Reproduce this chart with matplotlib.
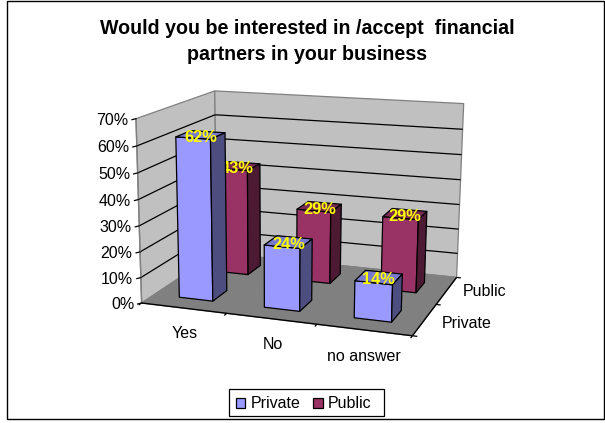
import numpy as np
import matplotlib
matplotlib.use("Agg")
import matplotlib.pyplot as plt
from matplotlib.patches import Polygon, Rectangle

categories = ["Yes", "No", "no answer"]
series_names = ["Private", "Public"]
private_values = [62, 24, 14]
public_values = [43, 29, 29]
z_ticks = [0, 10, 20, 30, 40, 50, 60, 70]

PRIVATE = ("#9999FF", "#7A7ACC", "#4D4D80")
PUBLIC = ("#993366", "#7A2952", "#4D1A33")
WALL = "#C0C0C0"
FLOOR = "#808080"
EDGE = "#000000"

plt.rcParams["font.family"] = ["Liberation Sans", "DejaVu Sans"]
W, H = 605, 423
fig = plt.figure(figsize=(W / 100, H / 100), dpi=100, facecolor="white")
ax = fig.add_axes([0, 0, 1, 1])
ax.set_xlim(0, W)
ax.set_ylim(H, 0)
ax.axis("off")

# Perspective camera fitted to the chart box corners (x categories, y series depth, z value)
world = np.array([[0, 0, 0], [3, 0, 0], [3, 2, 0], [0, 2, 0], [0, 0, 70], [0, 2, 70], [3, 2, 70]], float)
pix = np.array([[142.3, 301], [412.7, 337.3], [456.7, 275.7], [216, 255], [135, 119.3], [216, 90], [463.3, 104]])
A = []
b = []
for (X, Y, Z), (u, v) in zip(world, pix):
    A.append([X, Y, Z, 1, 0, 0, 0, 0, -u * X, -u * Y, -u * Z])
    b.append(u)
    A.append([0, 0, 0, 0, X, Y, Z, 1, -v * X, -v * Y, -v * Z])
    b.append(v)
p = np.linalg.lstsq(np.array(A), np.array(b), rcond=None)[0]
P = np.append(p, 1).reshape(3, 4)


def proj(x, y, z):
    h = P @ np.array([x, y, z, 1.0])
    return h[0] / h[2], h[1] / h[2]


def face(pts, fc, ec=EDGE, lw=0.9, z=2):
    ax.add_patch(Polygon([proj(*q) for q in pts], closed=True, fc=fc, ec=ec, lw=lw, zorder=z, joinstyle="round"))


def line(a, b, color="#000000", lw=0.9, z=1.5):
    q = [proj(*a), proj(*b)]
    ax.plot([q[0][0], q[1][0]], [q[0][1], q[1][1]], color=color, lw=lw, zorder=z, solid_capstyle="butt")


# chart border
ax.add_patch(Rectangle((7, 1.5), 597, 418, fc="white", ec="#000000", lw=1.0, zorder=0))

# walls and floor
face([(0, 0, 0), (0, 2, 0), (0, 2, 70), (0, 0, 70)], WALL, "#808080", 0.9, 1)
face([(0, 2, 0), (3, 2, 0), (3, 2, 70), (0, 2, 70)], WALL, "#808080", 0.9, 1)
face([(0, 0, 0), (3, 0, 0), (3, 2, 0), (0, 2, 0)], FLOOR, "#808080", 0.9, 1.2)
for t in z_ticks[1:-1]:
    line((0, 0, t), (0, 2, t))
    line((0, 2, t), (3, 2, t))

# axes, ticks, tick labels
line((0, 0, 0), (0, 0, 70), "#808080", 1.0, 1.6)
line((0, 0, 0), (3, 0, 0), "#000000", 1.0, 1.6)
line((3, 0, 0), (3, 2, 0), "#000000", 1.0, 1.6)
for t in z_ticks:
    x0, y0 = proj(0, 0, t)
    ax.plot([x0 - 4, x0], [y0 + 1, y0], color="#000000", lw=0.9, zorder=1.6)
    ax.text(x0 - 7.5, y0 + 1.5, f"{t}%", ha="right", va="center", fontsize=11.5, color="#000000")
for i in range(4):
    line((i, 0, 0), (i, -0.07, 0), "#000000", 0.9, 1.6)
for i in range(3):
    line((3, i, 0), (3.05, i, 0), "#000000", 0.9, 1.6)
cat_dx = [13, 12, 9]
for i, c in enumerate(categories):
    x0, y0 = proj(i + 0.5, -0.3, 0)
    ax.text(x0 + cat_dx[i], y0 + 16, c, ha="center", va="center", fontsize=11.5)
for j, s in enumerate(series_names):
    x0, y0 = proj(3.05, j + 0.5, 0)
    ax.text(x0 + 12, y0 + 3 - 2 * j, s, ha="left", va="center", fontsize=11.5)

# bars (back row first)
half_x, half_y = 0.2, 0.19
for j, (vals, cols) in reversed(list(enumerate([(private_values, PRIVATE), (public_values, PUBLIC)]))):
    for i, v in enumerate(vals):
        cx, cy = i + 0.5, j + 0.5
        x0, x1, y0, y1 = cx - half_x, cx + half_x, cy - half_y, cy + half_y
        zo = 3 + (1 - j) * 3 + i * 0.1
        face([(x0, y0, 0), (x1, y0, 0), (x1, y0, v), (x0, y0, v)], cols[0], z=zo)
        face([(x0, y0, v), (x1, y0, v), (x1, y1, v), (x0, y1, v)], cols[1], z=zo)
        face([(x1, y0, 0), (x1, y1, 0), (x1, y1, v), (x1, y0, v)], cols[2], z=zo)
        lx, ly = proj(cx, cy, v)
        ax.text(lx, ly + 2.5, f"{v}%", ha="center", va="center", fontsize=11.8, fontweight="bold",
                color="#FFFF00", zorder=zo + 0.5)

# title
ax.text(307, 29, "Would you be interested in /accept  financial", ha="center", va="center", fontsize=14.1, fontweight="bold")
ax.text(307, 55, "partners in your business", ha="center", va="center", fontsize=14.1, fontweight="bold")

# legend
ax.add_patch(Rectangle((229, 389.5), 155, 27, fc="white", ec="#000000", lw=0.9, zorder=5))
ax.add_patch(Rectangle((235.5, 398), 9.5, 10, fc=PRIVATE[0], ec="#000000", lw=0.9, zorder=6))
ax.text(250.5, 403, series_names[0], ha="left", va="center", fontsize=11.5, zorder=6)
ax.add_patch(Rectangle((313, 398), 9.5, 10, fc=PUBLIC[0], ec="#000000", lw=0.9, zorder=6))
ax.text(328, 403, series_names[1], ha="left", va="center", fontsize=11.5, zorder=6)

fig.savefig("out.png", dpi=100, facecolor="white")
